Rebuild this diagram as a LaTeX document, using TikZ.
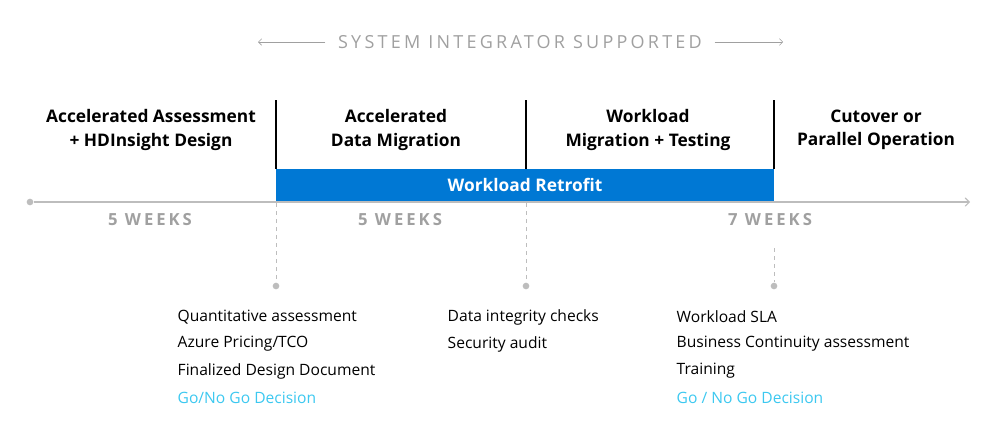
\documentclass[tikz,border=0pt]{standalone}
\usepackage{fontspec}
\setmainfont{Open Sans}
\usepackage{tikz}
\usetikzlibrary{positioning,calc,arrows}
\definecolor{barblue}{HTML}{0078D4}
\definecolor{golink}{HTML}{3CC8F0}
\definecolor{axisgray}{HTML}{BDBDBD}
\definecolor{weekgray}{HTML}{A0A0A0}
\tikzset{
  phase/.style={align=center, font=\fontsize{13}{17.3}\selectfont\bfseries},
  weeks/.style={text=weekgray, font=\fontsize{12.5}{13}\selectfont\bfseries},
  item/.style={anchor=west, font=\fontsize{11.7}{13}\selectfont},
  tick/.style={axisgray, dashed, thin},
  dot/.style={circle, fill=axisgray, inner sep=0pt, minimum size=5pt}
}
\newcommand{\spaced}[1]{\addfontfeatures{LetterSpace=18}#1}
\begin{document}
\begin{tikzpicture}[x=0.75pt, y=-0.75pt]
\useasboundingbox (0,0) rectangle (999,440);

% banner on top
\node[text=weekgray, font=\fontsize{13.5}{15}\selectfont] (sis) at (520,42) {\spaced{SYSTEM INTEGRATOR SUPPORTED}};
\coordinate (sisl) at (258,42);
\coordinate (sisr) at (783,42);
\draw[-angle 90, weekgray] (sis.west) ++(-8,0) coordinate (a) -- (sisl);
\draw[-angle 90, weekgray] (sis.east) ++(8,0) coordinate (b) -- (sisr);

% time axis
\node[dot] (start) at (30,202) {};
\coordinate (end) at (970,202);
\draw[axisgray, thick, -angle 90] (start) -- (end);

% retrofit bar and phase borders
\node[fill=barblue, text=white, minimum width=498*0.75pt, minimum height=32*0.75pt, inner sep=0pt,
  font=\fontsize{13}{15}\selectfont\bfseries] (bar) at (525,185) {Workload Retrofit};
\foreach \x/\n in {276/p1, 526/p2, 774/p3} {
  \coordinate (\n top) at (\x,100);
  \coordinate (\n bot) at (\x,169);
  \draw[black, thick] (\n top) -- (\n bot);
}

% phase titles
\node[phase] (ph1) at (151,130) {Accelerated Assessment\\+ HDInsight Design};
\node[phase] (ph2) at (396,130) {Accelerated\\Data Migration};
\node[phase] (ph3) at (648,130) {Workload\\Migration + Testing};
\node[phase] (ph4) at (876,130) {Cutover or\\Parallel Operation};

% durations
\node[weeks] (w1) at (150,220) {\spaced{5 WEEKS}};
\node[weeks] (w2) at (400,220) {\spaced{5 WEEKS}};
\node[weeks] (w3) at (770,220) {\spaced{7 WEEKS}};

% milestones
\node[dot] (m1) at (276,286) {};
\node[dot] (m2) at (526,286) {};
\node[dot] (m3) at (774,286) {};
\coordinate (m1t) at (276,203);
\coordinate (m2t) at (526,203);
\coordinate (m3t) at (774,248);
\draw[tick] (m1t) -- (m1);
\draw[tick] (m2t) -- (m2);
\draw[tick] (m3t) -- (m3);

% deliverables
\node[item] (d1) at (173,317) {Quantitative assessment};
\node[item] (d2) at (173,344) {Azure Pricing/TCO};
\node[item] (d3) at (173,371) {Finalized Design Document};
\node[item, text=golink] (d4) at (173,398) {Go/No Go Decision};
\node[item] (e1) at (443,317) {Data integrity checks};
\node[item] (e2) at (443,344) {Security audit};
\node[item] (f1) at (672,317) {Workload SLA};
\node[item] (f2) at (672,344) {Business Continuity assessment};
\node[item] (f3) at (672,371) {Training};
\node[item, text=golink] (f4) at (672,398) {Go / No Go Decision};
\end{tikzpicture}
\end{document}
